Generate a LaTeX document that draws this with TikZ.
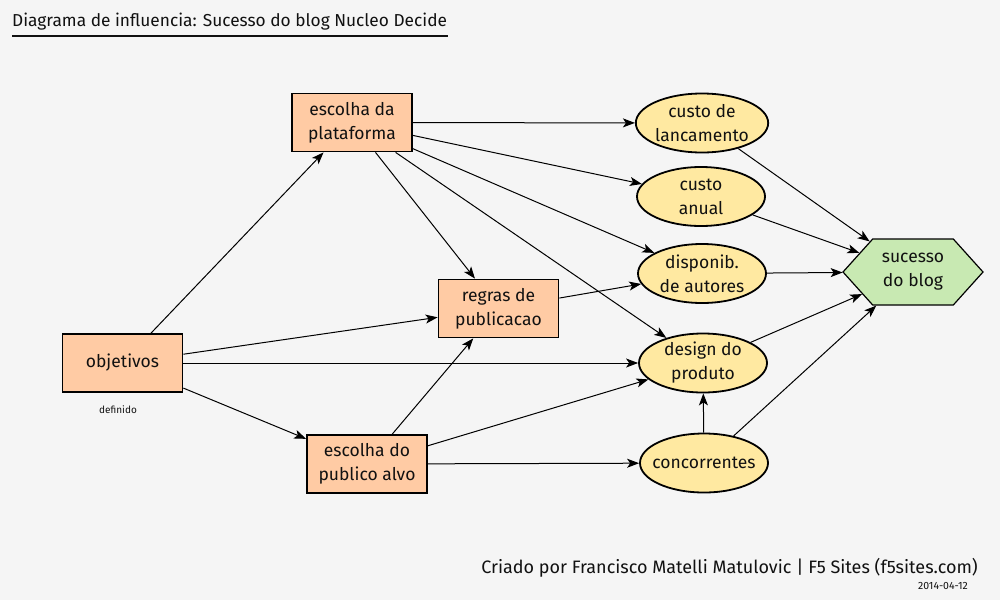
\documentclass[tikz,border=0pt]{standalone}
\usepackage{fontspec}
\setmainfont{Fira Sans}
\usetikzlibrary{shapes.geometric,shapes.symbols,arrows.meta}
\definecolor{bg}{HTML}{F5F5F5}
\definecolor{peach}{HTML}{FFCBA4}
\definecolor{cream}{HTML}{FFE9A1}
\definecolor{mint}{HTML}{C8E9B2}
\definecolor{ink}{HTML}{111111}
\tikzset{
  every node/.style={text=ink},
  decbox/.style={draw=black, line width=1.8pt, fill=peach, minimum width=120pt, minimum height=58pt, inner sep=0pt, align=center, font=\fontsize{17.5}{24}\selectfont},
  chance/.style={ellipse, draw=black, line width=1.8pt, fill=cream, minimum width=128pt, minimum height=59pt, inner sep=0pt, align=center, font=\fontsize{17.5}{24}\selectfont},
  goal/.style={signal, signal to=east and west, signal pointer angle=96, draw=black, line width=1.2pt, fill=mint, minimum width=140pt, minimum height=66pt, inner sep=0pt, align=center, font=\fontsize{17.5}{24}\selectfont},
  link/.style={draw=black, line width=1pt, -{Stealth[length=12pt,width=9pt,inset=3pt]}},
}
\begin{document}
\begin{tikzpicture}[x=1pt,y=-1pt]
\fill[bg] (0,0) rectangle (1000,600);
\useasboundingbox (0,0) rectangle (1000,600);
% title
\node[anchor=base west, font=\fontsize{17.3}{20}\selectfont, inner sep=0pt] (title) at (12,26) {Diagrama de influencia: Sucesso do blog Nucleo Decide};
\coordinate (ulA) at (12,36);
\coordinate (ulB) at (448,36);
\draw[line width=1.2pt, draw=ink] (ulA) -- (ulB);
% decision nodes
\node[decbox] (obj) at (122.5,363) {objetivos};
\node[decbox] (plat) at (352,122.5) {escolha da\\plataforma};
\node[decbox] (regr) at (498.5,308.5) {regras de\\publicacao};
\node[decbox] (publ) at (367,464) {escolha do\\publico alvo};
% chance nodes
\node[chance] (lanc) at (702,123) {custo de\\lancamento};
\node[chance] (anual) at (701,196.5) {custo\\anual};
\node[chance] (disp) at (702,273.5) {disponib.\\de autores};
\node[chance] (design) at (703,363) {design do\\produto};
\node[chance, inner xsep=-14pt] (conc) at (704,463) {concorrentes};
% goal
\node[goal] (suc) at (913,272) {sucesso\\do blog};
% label
\node[font=\fontsize{10}{12}\selectfont] (def) at (118,410) {definido};
% footer
\node[anchor=base east, font=\fontsize{18}{21}\selectfont, inner sep=0pt] (credit) at (978,573) {Criado por Francisco Matelli Matulovic | F5 Sites (f5sites.com)};
\node[anchor=base east, font=\fontsize{10.5}{12}\selectfont, inner sep=0pt] (date) at (968,589) {2014-04-12};
% links
\draw[link] (plat) -- (lanc);
\draw[link] (plat) -- (anual);
\draw[link] (plat) -- (disp);
\draw[link] (plat) -- (design);
\draw[link] (plat) -- (regr);
\draw[link] (obj) -- (plat);
\draw[link] (obj) -- (regr);
\draw[link] (obj) -- (design);
\draw[link] (obj) -- (publ);
\draw[link] (publ) -- (regr);
\draw[link] (publ) -- (design);
\draw[link] (publ) -- (conc);
\draw[link] (regr) -- (disp);
\draw[link] (conc) -- (design);
\draw[link] (lanc) -- (suc);
\draw[link] (anual) -- (suc);
\draw[link] (disp) -- (suc);
\draw[link] (design) -- (suc);
\draw[link] (conc) -- (suc);
\end{tikzpicture}
\end{document}
